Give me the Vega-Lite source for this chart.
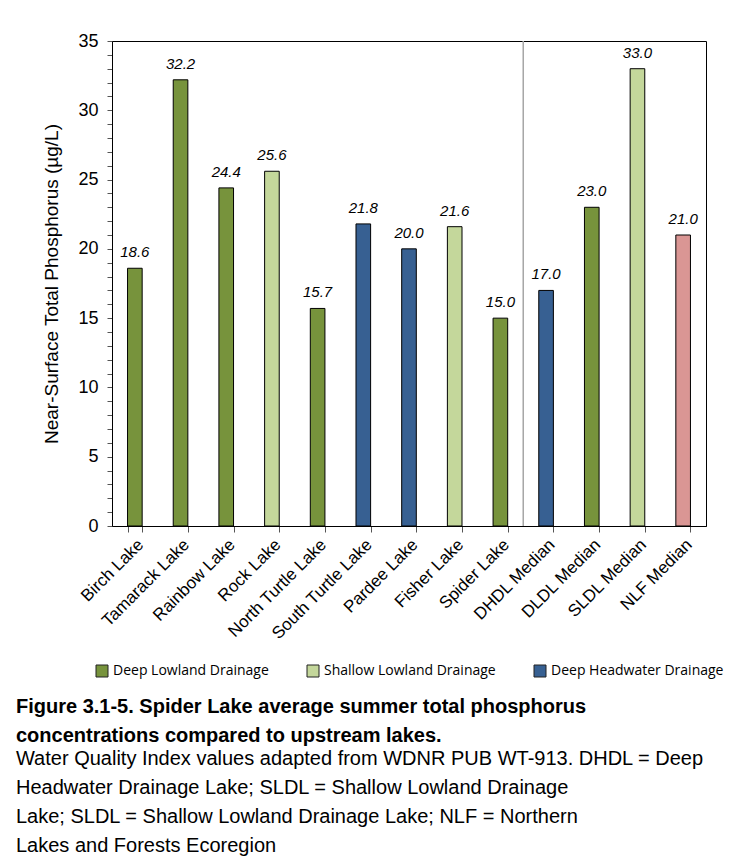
{
  "$schema": "https://vega.github.io/schema/vega-lite/v6.json",
  "width": 594,
  "height": 485,
  "padding": {"left": 15, "top": 32, "right": 20, "bottom": 2},
  "background": "white",
  "title": {
    "text": ["Figure 3.1-5. Spider Lake average summer total phosphorus", "concentrations compared to upstream lakes."],
    "subtitle": ["Water Quality Index values adapted from WDNR PUB WT-913. DHDL = Deep", "Headwater Drainage Lake; SLDL = Shallow Lowland Drainage", "Lake; SLDL = Shallow Lowland Drainage Lake; NLF = Northern", "Lakes and Forests Ecoregion"],
    "orient": "bottom",
    "anchor": "start",
    "frame": "bounds",
    "offset": 18,
    "dx": -27,
    "font": "Liberation Sans",
    "fontSize": 20,
    "fontWeight": "bold",
    "lineHeight": 29,
    "color": "black",
    "subtitleFont": "Liberation Sans",
    "subtitleFontSize": 20,
    "subtitleFontWeight": "normal",
    "subtitleLineHeight": 29,
    "subtitleColor": "black",
    "subtitlePadding": 3
  },
  "data": {
    "values": [
      {"lake": "Birch Lake", "tp": 18.6, "type": "Deep Lowland Drainage"},
      {"lake": "Tamarack Lake", "tp": 32.2, "type": "Deep Lowland Drainage"},
      {"lake": "Rainbow Lake", "tp": 24.4, "type": "Deep Lowland Drainage"},
      {"lake": "Rock Lake", "tp": 25.6, "type": "Shallow Lowland Drainage"},
      {"lake": "North Turtle Lake", "tp": 15.7, "type": "Deep Lowland Drainage"},
      {"lake": "South Turtle Lake", "tp": 21.8, "type": "Deep Headwater Drainage"},
      {"lake": "Pardee Lake", "tp": 20.0, "type": "Deep Headwater Drainage"},
      {"lake": "Fisher Lake", "tp": 21.6, "type": "Shallow Lowland Drainage"},
      {"lake": "Spider Lake", "tp": 15.0, "type": "Deep Lowland Drainage"},
      {"lake": "DHDL Median", "tp": 17.0, "type": "Deep Headwater Drainage"},
      {"lake": "DLDL Median", "tp": 23.0, "type": "Deep Lowland Drainage"},
      {"lake": "SLDL Median", "tp": 33.0, "type": "Shallow Lowland Drainage"},
      {"lake": "NLF Median", "tp": 21.0, "type": "Northern Lakes and Forests"}
    ]
  },
  "encoding": {
    "x": {
      "field": "lake",
      "type": "nominal",
      "sort": null,
      "scale": {"paddingInner": 0.68, "paddingOuter": 0.34},
      "axis": {
        "title": null,
        "labelAngle": -45,
        "labelFont": "Liberation Sans",
        "labelFontSize": 17,
        "labelColor": "black",
        "labelPadding": 4,
        "tickBand": "extent",
        "tickSize": 6,
        "tickColor": "#555",
        "domainColor": "black",
        "labelLimit": 300
      }
    },
    "y": {
      "field": "tp",
      "type": "quantitative",
      "scale": {"domain": [0, 35], "nice": false},
      "axis": {
        "title": "Near-Surface Total Phosphorus (µg/L)",
        "titleFont": "Liberation Sans",
        "titleFontSize": 19,
        "titleFontWeight": "normal",
        "titleColor": "black",
        "titlePadding": 16,
        "values": [0,1,2,3,4,5,6,7,8,9,10,11,12,13,14,15,16,17,18,19,20,21,22,23,24,25,26,27,28,29,30,31,32,33,34,35],
        "labelExpr": "datum.value % 5 === 0 ? datum.label : ''",
        "labelFont": "Liberation Sans",
        "labelFontSize": 18,
        "labelColor": "black",
        "labelPadding": 9,
        "tickSize": 5,
        "tickColor": "#555",
        "domainColor": "black",
        "grid": false
      }
    }
  },
  "layer": [
    {
      "mark": {"type": "bar", "stroke": "black", "strokeWidth": 1},
      "encoding": {
        "color": {
          "field": "type",
          "type": "nominal",
          "scale": {
            "domain": ["Deep Lowland Drainage", "Shallow Lowland Drainage", "Deep Headwater Drainage", "Northern Lakes and Forests"],
            "range": ["#77933C", "#C4D79B", "#376092", "#DA9694"]
          },
          "legend": {
            "title": null,
            "orient": "bottom",
            "direction": "horizontal",
            "values": ["Deep Lowland Drainage", "Shallow Lowland Drainage", "Deep Headwater Drainage"],
            "symbolType": "square",
            "symbolSize": 144,
            "symbolStrokeColor": "#222",
            "symbolStrokeWidth": 1,
            "symbolOpacity": 1,
            "labelFont": "Open Sans",
            "labelFontSize": 14,
            "labelColor": "black",
            "columnPadding": 36,
            "labelLimit": 300,
            "offset": 22
          }
        }
      }
    },
    {
      "mark": {"type": "text", "fontStyle": "italic", "font": "Liberation Sans", "fontSize": 15, "baseline": "bottom", "dy": -8, "color": "black"},
      "encoding": {
        "text": {"field": "tp", "type": "quantitative", "format": ".1f"}
      }
    },
    {
      "data": {"values": [{"divider": "DHDL Median"}]},
      "mark": {"type": "rule", "color": "#A6A6A6", "strokeWidth": 1.5},
      "encoding": {
        "x": {"field": "divider", "type": "nominal", "bandPosition": -1.0625},
        "y": null
      }
    }
  ],
  "config": {
    "view": {"stroke": "black", "strokeWidth": 1},
    "legend": {"layout": {"bottom": {"anchor": "middle"}}}
  }
}
